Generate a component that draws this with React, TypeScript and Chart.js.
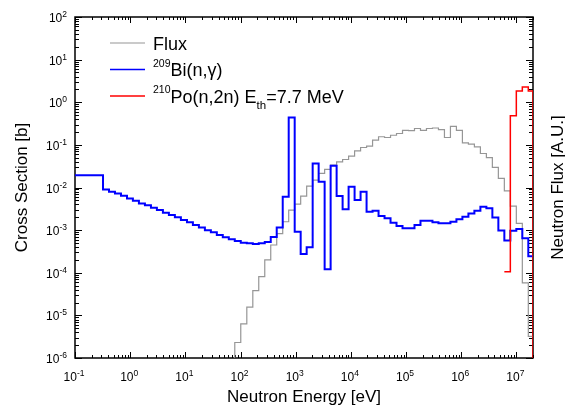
import { useEffect, useRef } from 'react';
import { Chart, registerables } from 'chart.js';

Chart.register(...registerables);

const FONT = '"Liberation Sans", Arial, sans-serif';

const X_MIN = 0.1;
const X_MAX = 2e7;
const Y_MIN = 1e-6;
const Y_MAX = 100;

// Lower edges of the energy groups (eV)
const groupEdges = [
  0.322, 0.413, 0.53, 0.681, 0.875, 1.12, 1.44, 1.85, 2.38, 3.05, 3.92, 5.03,
  6.46, 8.3, 10.7, 13.7, 17.6, 22.6, 29.0, 37.2, 47.7, 61.3, 78.7, 101, 130,
  167, 214, 275, 353, 453, 582, 747, 959, 1231, 1581, 2030, 2606, 3346, 4297,
  5518, 7085, 9096, 11680, 15000, 19260, 24730, 31750, 40770, 52350, 67210,
  86300, 110800, 142300, 182700, 234600, 301200, 386700, 496600, 637600,
  818700, 1.051e6, 1.35e6, 1.733e6, 2.226e6, 2.858e6, 3.669e6, 4.711e6,
  6.049e6, 7.768e6, 9.973e6, 1.281e7, 1.644e7,
];

// 209Bi(n,g) cross section [b]
const biBelowFirstEdge = 0.0195;
const biValues = [
  0.00902, 0.00792, 0.00726, 0.00638, 0.00555, 0.00488, 0.00424, 0.00381,
  0.00334, 0.00295, 0.00255, 0.00225, 0.002, 0.00172, 0.00152, 0.00132,
  0.00116, 0.001, 0.000888, 0.000768, 0.000678, 0.000609, 0.000556, 0.000507,
  0.000492, 0.000473, 0.000492, 0.000526, 0.000689, 0.00115, 0.00605, 0.437,
  0.000918, 0.000276, 0.000395, 0.0366, 0.0136, 0.000121, 0.0322, 0.00628,
  0.00307, 0.0104, 0.00507, 0.00792, 0.0027, 0.00284, 0.00214, 0.00189,
  0.00149, 0.00125, 0.0011, 0.0011, 0.00132, 0.00166, 0.00166, 0.00152,
  0.00144, 0.00144, 0.00157, 0.00179, 0.00206, 0.00247, 0.00284, 0.00353,
  0.00324, 0.00197, 0.000979, 0.000571, 0.000968, 0.00106, 0.000643, 0.000244,
];

// Neutron flux [A.U.], starting at group 22
const fluxFirstGroup = 22;
const fluxValues = [
  2.31e-6, 6.34e-6, 1.56e-5, 3.81e-5, 8.11e-5, 2.0e-4, 4.48e-4, 8.24e-4,
  1.57e-3, 2.95e-3, 4.08e-3, 6.28e-3, 1.08e-2, 1.49e-2, 2.14e-2, 2.65e-2,
  3.34e-2, 3.99e-2, 4.54e-2, 5.43e-2, 7.22e-2, 8.67e-2, 9.31e-2, 0.129, 0.155,
  0.149, 0.168, 0.185, 0.22, 0.216, 0.242, 0.22, 0.242, 0.249, 0.229, 0.149,
  0.273, 0.22, 0.111, 0.104, 0.0895, 0.0628, 0.05, 0.0295, 0.0163, 0.00836,
  0.00366, 0.00144, 5.78e-5, 3.2e-6,
];

// 210Po(n,2n) cross section [b], starting at group 67
const poFirstGroup = 67;
const poValues = [0.000106, 0.482, 1.83, 2.27, 1.83];

const xTickExponents = ['-1', '0', '1', '2', '3', '4', '5', '6', '7'];
const yTickExponents = ['-6', '-5', '-4', '-3', '-2', '-1', '0', '1', '2'];

const COLOR_FLUX = 'rgb(150,150,150)';
const COLOR_BI = '#0000ff';
const COLOR_PO = '#ff0000';

type Part = { t: string; size: number; dy: number };

function partsWidth(ctx: CanvasRenderingContext2D, parts: Part[]) {
  let w = 0;
  for (const p of parts) {
    ctx.font = `${p.size}px ${FONT}`;
    w += ctx.measureText(p.t).width;
  }
  return w;
}

function drawParts(ctx: CanvasRenderingContext2D, parts: Part[], x: number, y: number) {
  let cx = x;
  for (const p of parts) {
    ctx.font = `${p.size}px ${FONT}`;
    ctx.fillText(p.t, cx, y + p.dy);
    cx += ctx.measureText(p.t).width;
  }
}

const framePlugin = {
  id: 'frameTicks',
  beforeDatasetsDraw(chart: any) {
    const { ctx, chartArea: a, scales } = chart;
    const xs = scales.x;
    const ys = scales.y;
    ctx.save();
    ctx.strokeStyle = '#000';
    ctx.lineWidth = 1;
    ctx.beginPath();
    for (let d = -1; d <= 7; d++) {
      for (let m = 1; m <= 9; m++) {
        const v = m * Math.pow(10, d);
        if (v < X_MIN * 0.999 || v > X_MAX * 1.001) continue;
        const px = Math.round(xs.getPixelForValue(v)) + 0.5;
        const len = m === 1 ? 6 : 3;
        ctx.moveTo(px, a.bottom);
        ctx.lineTo(px, a.bottom - len);
        ctx.moveTo(px, a.top);
        ctx.lineTo(px, a.top + len);
      }
    }
    for (let d = -6; d <= 2; d++) {
      for (let m = 1; m <= 9; m++) {
        const v = m * Math.pow(10, d);
        if (v < Y_MIN * 0.999 || v > Y_MAX * 1.001) continue;
        const py = Math.round(ys.getPixelForValue(v)) + 0.5;
        const len = m === 1 ? 7 : 4;
        ctx.moveTo(a.left, py);
        ctx.lineTo(a.left + len, py);
        ctx.moveTo(a.right, py);
        ctx.lineTo(a.right - len, py);
      }
    }
    ctx.stroke();
    ctx.lineWidth = 1.5;
    ctx.strokeRect(a.left, a.top, a.right - a.left, a.bottom - a.top);
    ctx.restore();
  },
  afterDraw(chart: any) {
    const { ctx, chartArea: a, scales } = chart;
    const xs = scales.x;
    const ys = scales.y;
    ctx.save();
    ctx.fillStyle = '#000';
    ctx.textBaseline = 'alphabetic';
    ctx.textAlign = 'left';
    // x tick labels
    for (const e of xTickExponents) {
      const px = xs.getPixelForValue(Math.pow(10, Number(e)));
      const parts: Part[] = [
        { t: '10', size: 12, dy: 0 },
        { t: e, size: 8.5, dy: -4.5 },
      ];
      const w = partsWidth(ctx, parts);
      drawParts(ctx, parts, px - 1 - w / 2, 380.5);
    }
    // y tick labels
    for (const e of yTickExponents) {
      const py = ys.getPixelForValue(Math.pow(10, Number(e)));
      const parts: Part[] = [
        { t: '10', size: 12, dy: 0 },
        { t: e, size: 8.5, dy: -5 },
      ];
      const w = partsWidth(ctx, parts);
      drawParts(ctx, parts, 67 - w, py + 5);
    }
    // axis titles
    ctx.font = `17px ${FONT}`;
    ctx.textAlign = 'center';
    const cx = (a.left + a.right) / 2;
    const cy = (a.top + a.bottom) / 2;
    ctx.fillText('Neutron Energy [eV]', cx, 402);
    ctx.save();
    ctx.translate(27, cy);
    ctx.rotate(-Math.PI / 2);
    ctx.fillText('Cross Section [b]', 0, 0);
    ctx.restore();
    ctx.save();
    ctx.translate(563, cy);
    ctx.rotate(-Math.PI / 2);
    ctx.fillText('Neutron Flux [A.U.]', 0, 0);
    ctx.restore();

    // legend
    ctx.textAlign = 'left';
    const rows: { color: string; width: number; y: number; parts: Part[] }[] = [
      { color: COLOR_FLUX, width: 1.2, y: 43, parts: [{ t: 'Flux', size: 18, dy: 0 }] },
      {
        color: COLOR_BI,
        width: 1.5,
        y: 69.5,
        parts: [
          { t: '209', size: 10.5, dy: -9.5 },
          { t: 'Bi(n,\u03b3)', size: 18, dy: 0 },
        ],
      },
      {
        color: COLOR_PO,
        width: 1.5,
        y: 96,
        parts: [
          { t: '210', size: 10.5, dy: -9.5 },
          { t: 'Po(n,2n) E', size: 18, dy: 0 },
          { t: 'th', size: 11.5, dy: 6.5 },
          { t: '=7.7 MeV', size: 18, dy: 0 },
        ],
      },
    ];
    for (const r of rows) {
      ctx.strokeStyle = r.color;
      ctx.lineWidth = r.width;
      ctx.beginPath();
      ctx.moveTo(110, r.y);
      ctx.lineTo(145, r.y);
      ctx.stroke();
      drawParts(ctx, r.parts, 153, r.y + 6.7);
    }
    ctx.restore();
  },
};

export default function App() {
  const canvasRef = useRef<HTMLCanvasElement | null>(null);

  useEffect(() => {
    const canvas = canvasRef.current;
    if (!canvas) return;

    const biPoints = [
      { x: X_MIN, y: biBelowFirstEdge },
      ...groupEdges.map((e, i) => ({ x: e, y: biValues[i] })),
      { x: X_MAX, y: biValues[biValues.length - 1] },
    ];
    const fluxPoints = [
      { x: groupEdges[fluxFirstGroup], y: Y_MIN },
      ...fluxValues.map((v, i) => ({ x: groupEdges[fluxFirstGroup + i], y: v })),
      { x: X_MAX, y: fluxValues[fluxValues.length - 1] },
    ];
    const poPoints = [
      ...poValues.map((v, i) => ({ x: groupEdges[poFirstGroup + i], y: v })),
      { x: X_MAX, y: poValues[poValues.length - 1] },
      { x: X_MAX, y: Y_MIN },
    ];

    const chart = new Chart(canvas, {
      type: 'line',
      data: {
        datasets: [
          {
            label: '210Po(n,2n)',
            data: poPoints,
            borderColor: COLOR_PO,
            borderWidth: 1.5,
            stepped: true,
            pointRadius: 0,
            fill: false,
            order: 0,
          },
          {
            label: '209Bi(n,g)',
            data: biPoints,
            borderColor: COLOR_BI,
            borderWidth: 2,
            stepped: true,
            pointRadius: 0,
            fill: false,
            order: 1,
          },
          {
            label: 'Flux',
            data: fluxPoints,
            borderColor: COLOR_FLUX,
            borderWidth: 1.2,
            stepped: true,
            pointRadius: 0,
            fill: false,
            order: 2,
          },
        ],
      },
      options: {
        responsive: false,
        devicePixelRatio: 1,
        animation: false,
        layout: { padding: { top: 17, left: 0, right: 0, bottom: 0 } },
        plugins: {
          legend: { display: false },
          tooltip: { enabled: false },
          title: { display: false },
        },
        scales: {
          x: {
            type: 'logarithmic',
            position: 'bottom',
            min: X_MIN,
            max: X_MAX,
            grid: { display: false },
            border: { display: false },
            ticks: { display: false },
            afterFit: (s: any) => {
              s.height = 48;
            },
          },
          y: {
            type: 'logarithmic',
            position: 'left',
            min: Y_MIN,
            max: Y_MAX,
            grid: { display: false },
            border: { display: false },
            ticks: { display: false },
            afterFit: (s: any) => {
              s.width = 75;
            },
          },
          y2: {
            type: 'linear',
            position: 'right',
            display: true,
            grid: { display: false },
            border: { display: false },
            ticks: { display: false },
            afterFit: (s: any) => {
              s.width = 32;
            },
          },
        },
      } as any,
      plugins: [framePlugin],
    });

    return () => chart.destroy();
  }, []);

  return (
    <div style={{ position: 'absolute', left: 0, top: 0, width: 565, height: 406, background: '#fff' }}>
      <canvas ref={canvasRef} width={565} height={406} style={{ display: 'block' }} />
    </div>
  );
}
